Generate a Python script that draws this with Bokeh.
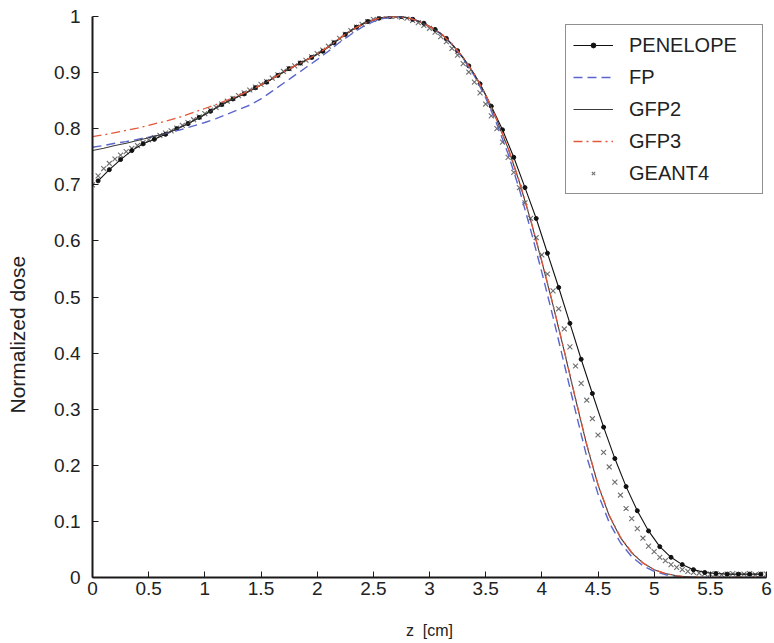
import math
from bokeh.plotting import figure
from bokeh.models import (FixedTicker, Legend, LegendItem, Title)
from bokeh.embed import file_html
from bokeh.resources import INLINE

# ---------------- data ----------------
x_ticks = [0, 0.5, 1, 1.5, 2, 2.5, 3, 3.5, 4, 4.5, 5, 5.5, 6]
x_tick_labels = ["0", "0.5", "1", "1.5", "2", "2.5", "3", "3.5", "4", "4.5", "5", "5.5", "6"]
y_ticks = [0, 0.1, 0.2, 0.3, 0.4, 0.5, 0.6, 0.7, 0.8, 0.9, 1]
y_tick_labels = ["0", "0.1", "0.2", "0.3", "0.4", "0.5", "0.6", "0.7", "0.8", "0.9", "1"]

# PENELOPE: bins of 0.1 cm centred at 0.05 ... 5.95
penelope_z = [round(0.05 + 0.1 * i, 2) for i in range(60)]
penelope_dose = [0.707, 0.727, 0.745, 0.761, 0.773, 0.781, 0.790, 0.800, 0.809, 0.820,
                 0.831, 0.843, 0.853, 0.862, 0.873, 0.883, 0.895, 0.907, 0.917, 0.927,
                 0.938, 0.953, 0.968, 0.981, 0.991, 0.997, 1.000, 1.000, 0.995, 0.988,
                 0.977, 0.961, 0.939, 0.912, 0.880, 0.840, 0.798, 0.749, 0.695, 0.640,
                 0.578, 0.517, 0.453, 0.389, 0.328, 0.268, 0.212, 0.162, 0.119, 0.083,
                 0.055, 0.036, 0.023, 0.014, 0.009, 0.007, 0.006, 0.006, 0.006, 0.006]

# model curves sampled every 0.1 cm
model_z = [round(0.1 * i, 1) for i in range(61)]
fp_dose = [0.767, 0.770, 0.774, 0.777, 0.781, 0.785, 0.789, 0.794, 0.799, 0.805,
           0.811, 0.818, 0.826, 0.834, 0.842, 0.853, 0.867, 0.881, 0.895, 0.909,
           0.923, 0.938, 0.954, 0.968, 0.981, 0.991, 0.997, 1.000, 0.998, 0.992,
           0.982, 0.969, 0.950, 0.925, 0.894, 0.855, 0.808, 0.755, 0.692, 0.620,
           0.544, 0.464, 0.380, 0.296, 0.215, 0.149, 0.098, 0.062, 0.037, 0.021,
           0.011, 0.005, 0.002, 0.001, 0.0, 0.0, 0.0, 0.0, 0.0, 0.0, 0.0]
gfp2_dose = [0.761, 0.765, 0.770, 0.774, 0.779, 0.784, 0.789, 0.795, 0.804, 0.814,
             0.825, 0.837, 0.848, 0.858, 0.867, 0.878, 0.889, 0.901, 0.912, 0.922,
             0.933, 0.946, 0.961, 0.975, 0.986, 0.994, 0.999, 1.000, 0.998, 0.992,
             0.982, 0.970, 0.951, 0.927, 0.897, 0.860, 0.815, 0.765, 0.705, 0.637,
             0.563, 0.485, 0.403, 0.318, 0.236, 0.165, 0.110, 0.071, 0.044, 0.026,
             0.014, 0.007, 0.003, 0.001, 0.0, 0.0, 0.0, 0.0, 0.0, 0.0, 0.0]
gfp3_dose = [0.786, 0.789, 0.793, 0.797, 0.801, 0.806, 0.811, 0.816, 0.822, 0.829,
             0.836, 0.843, 0.851, 0.859, 0.868, 0.878, 0.889, 0.901, 0.912, 0.922,
             0.933, 0.946, 0.961, 0.975, 0.986, 0.994, 0.999, 1.000, 0.998, 0.992,
             0.982, 0.970, 0.951, 0.927, 0.897, 0.861, 0.816, 0.766, 0.706, 0.638,
             0.564, 0.486, 0.404, 0.319, 0.237, 0.166, 0.111, 0.072, 0.045, 0.026,
             0.014, 0.007, 0.003, 0.001, 0.0, 0.0, 0.0, 0.0, 0.0, 0.0, 0.0]

# GEANT4 sampled every 0.05 cm
geant4_z = [round(0.05 * i, 2) for i in range(121)]
geant4_dose = [0.700, 0.716, 0.729, 0.738, 0.746, 0.753, 0.759, 0.765, 0.770, 0.775,
               0.780, 0.784, 0.788, 0.792, 0.796, 0.801, 0.806, 0.811, 0.816, 0.821,
               0.827, 0.833, 0.838, 0.844, 0.849, 0.854, 0.859, 0.864, 0.869, 0.874,
               0.879, 0.884, 0.890, 0.896, 0.902, 0.907, 0.912, 0.917, 0.922, 0.928,
               0.934, 0.940, 0.947, 0.954, 0.961, 0.968, 0.975, 0.981, 0.986, 0.991,
               0.995, 0.998, 1.000, 1.000, 1.000, 0.999, 0.997, 0.993, 0.989, 0.984,
               0.979, 0.972, 0.964, 0.955, 0.943, 0.931, 0.916, 0.901, 0.883, 0.864,
               0.844, 0.823, 0.800, 0.776, 0.749, 0.722, 0.695, 0.668, 0.640, 0.606,
               0.575, 0.541, 0.511, 0.479, 0.443, 0.411, 0.377, 0.346, 0.316, 0.283,
               0.254, 0.223, 0.197, 0.170, 0.147, 0.123, 0.105, 0.087, 0.070, 0.056,
               0.046, 0.036, 0.030, 0.023, 0.018, 0.014, 0.011, 0.009, 0.008, 0.007,
               0.006, 0.007, 0.005, 0.006, 0.007, 0.005, 0.006, 0.007, 0.005, 0.006,
               0.006]

FONT = "Liberation Sans"

p = figure(width=774, height=643, x_range=(0, 6), y_range=(0, 1),
           output_backend="svg", toolbar_location=None,
           min_border_left=92, min_border_right=8, min_border_top=16, min_border_bottom=66)
p.outline_line_color = None
p.xgrid.visible = False
p.ygrid.visible = False
p.background_fill_color = "white"
p.border_fill_color = "white"

for ax in (p.xaxis[0], p.yaxis[0]):
    ax.axis_line_width = 2
    ax.axis_line_color = "#1a1a1a"
    ax.major_tick_in = 6
    ax.major_tick_out = 0
    ax.major_tick_line_color = "#1a1a1a"
    ax.major_tick_line_width = 1
    ax.minor_tick_line_color = None
    ax.major_label_text_font = FONT
    ax.major_label_text_font_size = "19px"
    ax.major_label_text_color = "#222222"

p.xaxis.ticker = FixedTicker(ticks=x_ticks)
p.yaxis.ticker = FixedTicker(ticks=y_ticks)
p.xaxis.major_label_overrides = dict(zip(x_ticks, x_tick_labels))
p.yaxis.major_label_overrides = dict(zip(y_ticks, y_tick_labels))
p.xaxis.major_label_standoff = 4
p.yaxis.major_label_standoff = 12

p.xaxis.axis_label = "z \u00a0[cm]"
p.xaxis.axis_label_text_font = FONT
p.xaxis.axis_label_text_font_style = "normal"
p.xaxis.axis_label_text_font_size = "16px"
p.xaxis.axis_label_text_color = "#222222"
p.xaxis.axis_label_standoff = 24

# empty spacer between the tick labels and the vertical axis title
spacer = Title(text=" ", text_font=FONT, text_font_size="14px", standoff=2,
               text_color="white")
p.add_layout(spacer, "left")
ytitle = Title(text="Normalized dose", align="left", offset=164,
               text_font=FONT, text_font_size="21px", text_font_style="normal",
               text_color="#222222", standoff=6)
p.add_layout(ytitle, "left")

# renderers
g4 = p.scatter(geant4_z, geant4_dose, marker="x", size=7, line_color="#6e6e6e", line_width=1.1)
pen_line = p.line(penelope_z, penelope_dose, line_color="#111111", line_width=1.1)
pen_dots = p.scatter(penelope_z, penelope_dose, marker="circle", size=4,
                     fill_color="#111111", line_color="#111111")
fp = p.line(model_z, fp_dose, line_color="#5a66cc", line_width=1.4, line_dash="9 5")
gfp2 = p.line(model_z, gfp2_dose, line_color="#3c3c3c", line_width=1.1)
gfp3 = p.line(model_z, gfp3_dose, line_color="#e4573a", line_width=1.3, line_dash="9 4 2 4")

legend = Legend(items=[
    LegendItem(label="PENELOPE", renderers=[pen_line, pen_dots]),
    LegendItem(label="FP", renderers=[fp]),
    LegendItem(label="GFP2", renderers=[gfp2]),
    LegendItem(label="GFP3", renderers=[gfp3]),
    LegendItem(label="GEANT4", renderers=[g4]),
], location=(473, 383))
legend.label_text_font = FONT
legend.label_text_font_size = "20px"
legend.label_text_color = "#222222"
legend.glyph_width = 40
legend.glyph_height = 12
legend.label_height = 26
legend.label_width = 126
legend.label_standoff = 16
legend.spacing = 6
legend.padding = 7
legend.margin = 0
legend.border_line_color = "#222222"
legend.border_line_width = 1.5
legend.background_fill_alpha = 1.0
p.add_layout(legend, "center")

open("out.html", "w").write(file_html(p, INLINE))
